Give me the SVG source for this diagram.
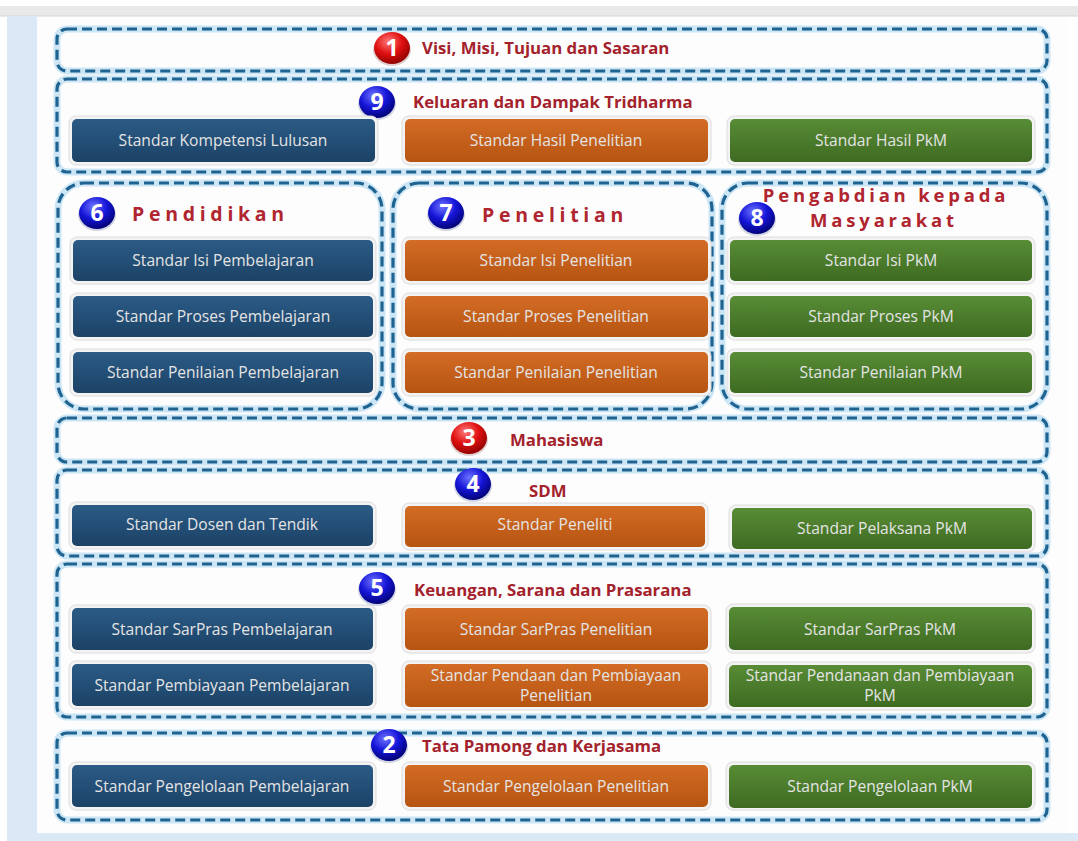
<svg xmlns="http://www.w3.org/2000/svg" width="1078" height="841" viewBox="0 0 1078 841">
<style>
.glow{fill:none;stroke:#cde6f5;stroke-width:7}
.dash{fill:none;stroke:#1f6391;stroke-width:3.2;stroke-dasharray:10 5}
.halo{fill:#f3f3f3;stroke:#dcdcdc;stroke-width:1}
.bt{font-family:"Open Sans","Liberation Sans",sans-serif;font-size:15.6px;fill:#e4e4e4;text-anchor:middle}
.lbl{font-family:"Open Sans","Liberation Sans",sans-serif;font-size:16.8px;font-weight:bold;fill:#a3222c}
.ttl{font-family:"Open Sans","Liberation Sans",sans-serif;font-size:18.5px;font-weight:bold;fill:#b0252f;letter-spacing:3.8px}
.ttl2{font-size:19.5px;letter-spacing:4.7px}
.num{font-family:"Open Sans","Liberation Sans",sans-serif;font-size:23px;font-weight:bold;fill:#ffffff;text-anchor:middle}
</style>
<defs>
<linearGradient id="gB" x1="0" y1="0" x2="0" y2="1"><stop offset="0" stop-color="#2b5b86"/><stop offset="1" stop-color="#1c4266"/></linearGradient>
<linearGradient id="gO" x1="0" y1="0" x2="0" y2="1"><stop offset="0" stop-color="#d36c24"/><stop offset="1" stop-color="#b65412"/></linearGradient>
<linearGradient id="gG" x1="0" y1="0" x2="0" y2="1"><stop offset="0" stop-color="#588c35"/><stop offset="1" stop-color="#3e6b22"/></linearGradient>
<radialGradient id="rB" cx="0.4" cy="0.3" r="0.75"><stop offset="0" stop-color="#6f73ff"/><stop offset="0.5" stop-color="#1515d8"/><stop offset="1" stop-color="#00006a"/></radialGradient>
<radialGradient id="rR" cx="0.4" cy="0.3" r="0.75"><stop offset="0" stop-color="#ff7a7a"/><stop offset="0.5" stop-color="#e01010"/><stop offset="1" stop-color="#880000"/></radialGradient>
<g id="badgeB"><ellipse cx="0" cy="2" rx="19" ry="16" fill="#9aa0c0" opacity="0.45"/><ellipse cx="0" cy="0" rx="18" ry="16" fill="url(#rB)"/></g>
<g id="badgeR"><ellipse cx="0" cy="2" rx="19" ry="16" fill="#c09a9a" opacity="0.45"/><ellipse cx="0" cy="0" rx="18" ry="16" fill="url(#rR)"/></g>
</defs>

<!-- background -->
<rect x="0" y="0" width="1078" height="841" fill="#ffffff"/>
<rect x="0" y="6" width="1078" height="10" fill="#e9e9e9"/>
<line x1="0" y1="16" x2="1078" y2="16" stroke="#d4d4d4" stroke-width="1"/>
<rect x="7" y="16" width="30" height="825" fill="#dbe8f5"/>
<rect x="7" y="833" width="1071" height="8" fill="#dbe8f5"/>
<rect x="37" y="17" width="1031" height="816" fill="#fdfdfd"/>

<g id="connectors"></g>

<!-- 1 Visi -->
<g id="grp1">
<rect class="glow" x="57" y="29" width="990" height="42" rx="10"/>
<rect class="dash" x="57" y="29" width="990" height="42" rx="10"/>
<use href="#badgeR" x="392" y="48"/><text class="num" x="392" y="56">1</text>
<text class="lbl" x="422" y="54">Visi, Misi, Tujuan dan Sasaran</text>
</g>

<!-- 9 Keluaran -->
<g id="grp9">
<rect class="glow" x="57" y="79" width="990" height="93" rx="10"/>
<rect class="dash" x="57" y="79" width="990" height="93" rx="10"/>
<use href="#badgeB" x="377" y="102"/><text class="num" x="377" y="110">9</text>
<text class="lbl" x="413" y="108">Keluaran dan Dampak Tridharma</text>
</g>
<g id="n9a"><rect class="halo" x="69" y="116" width="309" height="49" rx="7"/><rect x="72" y="119" width="303" height="43" rx="5" fill="url(#gB)"/><text class="bt" x="223" y="146">Standar Kompetensi Lulusan</text></g>
<g id="n9b"><rect class="halo" x="402" y="116" width="309" height="49" rx="7"/><rect x="405" y="119" width="303" height="43" rx="5" fill="url(#gO)"/><text class="bt" x="556" y="146">Standar Hasil Penelitian</text></g>
<g id="n9c"><rect class="halo" x="727" y="116" width="308" height="49" rx="7"/><rect x="730" y="119" width="302" height="43" rx="5" fill="url(#gG)"/><text class="bt" x="881" y="146">Standar Hasil PkM</text></g>

<!-- 6 Pendidikan -->
<g id="grp6">
<rect class="glow" x="58" y="183" width="324" height="226" rx="26"/>
<rect class="dash" x="58" y="183" width="324" height="226" rx="26"/>
<use href="#badgeB" x="97" y="213"/><text class="num" x="97" y="221">6</text>
<text class="ttl ttl2" x="132" y="221">Pendidikan</text>
</g>
<g id="n6a"><rect class="halo" x="70" y="237" width="306" height="47" rx="7"/><rect x="73" y="240" width="300" height="41" rx="5" fill="url(#gB)"/><text class="bt" x="223" y="266">Standar Isi Pembelajaran</text></g>
<g id="n6b"><rect class="halo" x="70" y="293" width="306" height="47" rx="7"/><rect x="73" y="296" width="300" height="41" rx="5" fill="url(#gB)"/><text class="bt" x="223" y="322">Standar Proses Pembelajaran</text></g>
<g id="n6c"><rect class="halo" x="70" y="349" width="306" height="47" rx="7"/><rect x="73" y="352" width="300" height="41" rx="5" fill="url(#gB)"/><text class="bt" x="223" y="378">Standar Penilaian Pembelajaran</text></g>

<!-- 7 Penelitian -->
<g id="grp7">
<rect class="glow" x="393" y="183" width="319" height="226" rx="26"/>
<rect class="dash" x="393" y="183" width="319" height="226" rx="26"/>
<use href="#badgeB" x="446" y="213"/><text class="num" x="446" y="221">7</text>
<text class="ttl ttl2" x="482" y="222">Penelitian</text>
</g>
<g id="n7a"><rect class="halo" x="402" y="237" width="309" height="47" rx="7"/><rect x="405" y="240" width="303" height="41" rx="5" fill="url(#gO)"/><text class="bt" x="556" y="266">Standar Isi Penelitian</text></g>
<g id="n7b"><rect class="halo" x="402" y="293" width="309" height="47" rx="7"/><rect x="405" y="296" width="303" height="41" rx="5" fill="url(#gO)"/><text class="bt" x="556" y="322">Standar Proses Penelitian</text></g>
<g id="n7c"><rect class="halo" x="402" y="349" width="309" height="47" rx="7"/><rect x="405" y="352" width="303" height="41" rx="5" fill="url(#gO)"/><text class="bt" x="556" y="378">Standar Penilaian Penelitian</text></g>

<!-- 8 PkM -->
<g id="grp8">
<rect class="glow" x="722" y="183" width="325" height="226" rx="26"/>
<rect class="dash" x="722" y="183" width="325" height="226" rx="26"/>
<use href="#badgeB" x="757" y="218"/><text class="num" x="757" y="226">8</text>
<text class="ttl" x="886" y="202" text-anchor="middle">Pengabdian kepada</text>
<text class="ttl" x="884" y="227" text-anchor="middle">Masyarakat</text>
</g>
<g id="n8a"><rect class="halo" x="727" y="237" width="308" height="47" rx="7"/><rect x="730" y="240" width="302" height="41" rx="5" fill="url(#gG)"/><text class="bt" x="881" y="266">Standar Isi PkM</text></g>
<g id="n8b"><rect class="halo" x="727" y="293" width="308" height="47" rx="7"/><rect x="730" y="296" width="302" height="41" rx="5" fill="url(#gG)"/><text class="bt" x="881" y="322">Standar Proses PkM</text></g>
<g id="n8c"><rect class="halo" x="727" y="349" width="308" height="47" rx="7"/><rect x="730" y="352" width="302" height="41" rx="5" fill="url(#gG)"/><text class="bt" x="881" y="378">Standar Penilaian PkM</text></g>

<!-- 3 Mahasiswa -->
<g id="grp3">
<rect class="glow" x="57" y="418" width="990" height="44" rx="10"/>
<rect class="dash" x="57" y="418" width="990" height="44" rx="10"/>
<use href="#badgeR" x="469" y="438"/><text class="num" x="469" y="446">3</text>
<text class="lbl" x="510" y="446">Mahasiswa</text>
</g>

<!-- 4 SDM -->
<g id="grp4">
<rect class="glow" x="57" y="470" width="990" height="86" rx="10"/>
<rect class="dash" x="57" y="470" width="990" height="86" rx="10"/>
<use href="#badgeB" x="473" y="484"/><text class="num" x="473" y="492">4</text>
<text class="lbl" x="529" y="497">SDM</text>
</g>
<g id="n4a"><rect class="halo" x="69" y="502" width="307" height="47" rx="7"/><rect x="72" y="505" width="301" height="41" rx="5" fill="url(#gB)"/><text class="bt" x="222" y="530">Standar Dosen dan Tendik</text></g>
<g id="n4b"><rect class="halo" x="402" y="503" width="306" height="47" rx="7"/><rect x="405" y="506" width="300" height="41" rx="5" fill="url(#gO)"/><text class="bt" x="555" y="530">Standar Peneliti</text></g>
<g id="n4c"><rect class="halo" x="729" y="505" width="306" height="47" rx="7"/><rect x="732" y="508" width="300" height="41" rx="5" fill="url(#gG)"/><text class="bt" x="882" y="534">Standar Pelaksana PkM</text></g>

<!-- 5 Keuangan -->
<g id="grp5">
<rect class="glow" x="57" y="564" width="990" height="153" rx="10"/>
<rect class="dash" x="57" y="564" width="990" height="153" rx="10"/>
<use href="#badgeB" x="377" y="588"/><text class="num" x="377" y="596">5</text>
<text class="lbl" x="414" y="596">Keuangan, Sarana dan Prasarana</text>
</g>
<g id="n5a"><rect class="halo" x="69" y="605" width="307" height="48" rx="7"/><rect x="72" y="608" width="301" height="42" rx="5" fill="url(#gB)"/><text class="bt" x="222" y="635">Standar SarPras Pembelajaran</text></g>
<g id="n5b"><rect class="halo" x="402" y="605" width="309" height="48" rx="7"/><rect x="405" y="608" width="303" height="42" rx="5" fill="url(#gO)"/><text class="bt" x="556" y="635">Standar SarPras Penelitian</text></g>
<g id="n5c"><rect class="halo" x="726" y="604" width="309" height="49" rx="7"/><rect x="729" y="607" width="303" height="43" rx="5" fill="url(#gG)"/><text class="bt" x="880" y="635">Standar SarPras PkM</text></g>
<g id="n5d"><rect class="halo" x="69" y="661" width="307" height="48" rx="7"/><rect x="72" y="664" width="301" height="42" rx="5" fill="url(#gB)"/><text class="bt" x="222" y="691">Standar Pembiayaan Pembelajaran</text></g>
<g id="n5e"><rect class="halo" x="402" y="661" width="309" height="49" rx="7"/><rect x="405" y="664" width="303" height="43" rx="5" fill="url(#gO)"/><text class="bt" x="556" y="681">Standar Pendaan dan Pembiayaan</text><text class="bt" x="556" y="701">Penelitian</text></g>
<g id="n5f"><rect class="halo" x="726" y="662" width="309" height="48" rx="7"/><rect x="729" y="665" width="303" height="42" rx="5" fill="url(#gG)"/><text class="bt" x="880" y="681">Standar Pendanaan dan Pembiayaan</text><text class="bt" x="880" y="701">PkM</text></g>

<!-- 2 Tata Pamong -->
<g id="grp2">
<rect class="glow" x="57" y="733" width="990" height="87" rx="10"/>
<rect class="dash" x="57" y="733" width="990" height="87" rx="10"/>
<use href="#badgeB" x="389" y="745"/><text class="num" x="389" y="753">2</text>
<text class="lbl" x="422" y="752">Tata Pamong dan Kerjasama</text>
</g>
<g id="n2a"><rect class="halo" x="69" y="762" width="307" height="48" rx="7"/><rect x="72" y="765" width="301" height="42" rx="5" fill="url(#gB)"/><text class="bt" x="222" y="792">Standar Pengelolaan Pembelajaran</text></g>
<g id="n2b"><rect class="halo" x="402" y="762" width="309" height="48" rx="7"/><rect x="405" y="765" width="303" height="42" rx="5" fill="url(#gO)"/><text class="bt" x="556" y="792">Standar Pengelolaan Penelitian</text></g>
<g id="n2c"><rect class="halo" x="726" y="762" width="309" height="48" rx="7"/><rect x="729" y="765" width="303" height="43" rx="5" fill="url(#gG)"/><text class="bt" x="880" y="792">Standar Pengelolaan PkM</text></g>
</svg>
